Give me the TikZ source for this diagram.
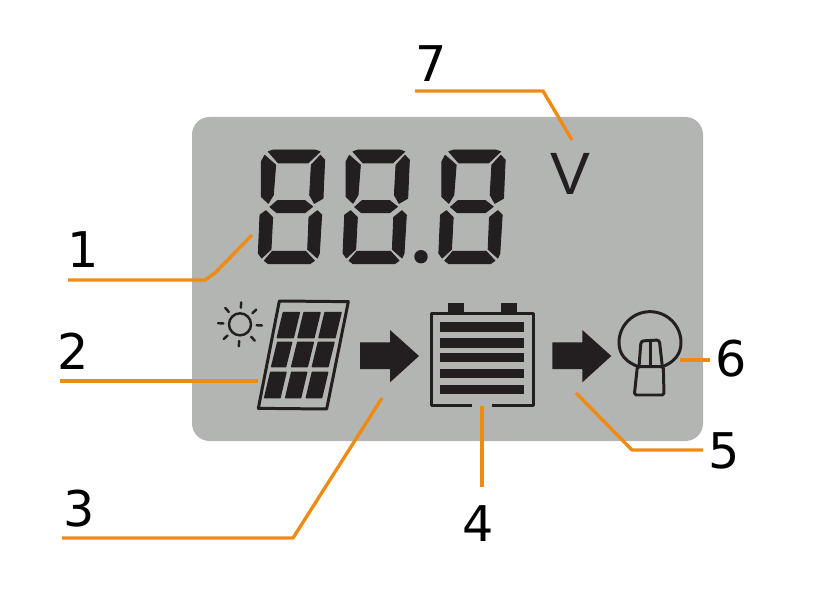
\documentclass[tikz,border=0pt]{standalone}
\usepackage{fontspec}
\setmainfont{DejaVu Sans}
\newfontfamily\lcdfont{Liberation Sans}
\definecolor{lcdgray}{HTML}{B2B5B2}
\definecolor{lcdblack}{HTML}{231F20}
\definecolor{leader}{HTML}{F08A12}
\tikzset{
  number/.style={font=\fontsize{28}{28}\selectfont, text=black, inner sep=0pt},
  leaderline/.style={draw=leader, line width=1.9pt, line join=round},
  seg/.style={fill=lcdblack, draw=lcdblack, line width=0.5pt, line join=round},
  icon/.style={draw=lcdblack, line width=1.7pt, line join=round},
  tiny/.style={scale=1/3}
}
% one 7-segment digit, drawn at 3x
\newcommand{\lcddigit}{%
  \path[seg] (85,65) -- (100,60) -- (225,60) -- (240,65) -- (204,99) -- (115,99) -- cycle;
  \path[seg] (74,76) -- (107,105) -- (100,195) -- (85,220) -- (64,200) -- (64,95) -- cycle;
  \path[seg] (241,76) -- (254,90) -- (249,205) -- (223,220) -- (209,195) -- (214,105) -- cycle;
  \path[seg] (90,231) -- (112,212) -- (195,212) -- (218,230) -- (195,248) -- (110,248) -- cycle;
  \path[seg] (78,242) -- (98,262) -- (93,358) -- (65,384) -- (55,370) -- (60,255) -- cycle;
  \path[seg] (232,242) -- (245,255) -- (238,370) -- (232,384) -- (203,358) -- (207,262) -- cycle;
  \path[seg] (97,364) -- (197,364) -- (223,392) -- (210,401) -- (85,401) -- (73,392) -- cycle;
}
% block arrow, drawn at 3x
\newcommand{\lcdarrow}{%
  \fill[lcdblack] (0,37) -- (90,37) -- (90,0) -- (177,78) -- (90,157) -- (90,117) -- (0,117) -- cycle;
}
\begin{document}
\begin{tikzpicture}[x=0.02cm, y=-0.02cm]
    \useasboundingbox (0,0) rectangle (835,611);

    % Display
    \fill[lcdgray, rounded corners=10pt] (192,117) -- (703,117) -- (703,441) -- (192,441) -- cycle;

    % Digits
    \foreach \digitx in {0,84.7,180.5} {
        \begin{scope}[shift={(240+\digitx,130)}, tiny]
            \lcddigit
        \end{scope}
    }
    \fill[lcdblack] (421,256.7) circle (6.7);

    % Volt sign
    \node[font=\lcdfont\fontsize{34}{34}\selectfont, text=lcdblack, inner sep=0pt] (volt) at (570,174) {V};

    % Sun and solar panel
    \begin{scope}[shift={(200,285)}, tiny]
        \draw[icon, line width=1.4pt] (120,118) circle (33);
        \foreach \ang in {3,48,93,138,183,228,273,318} {
            \draw[icon, line width=1.4pt, line cap=round, shift={(120,118)}] (\ang:50) -- (\ang:66);
        }
        \draw[icon] (238,48) -- (445,50) -- (380,372) -- (175,370) -- cycle;
        \foreach \cellx/\celly/\cellw/\cellh in {
            250/83/48/75, 312/83/48/75, 375/83/48/75,
            233/172/42/73, 293/172/47/73, 355/172/47/73,
            212/262/46/76, 275/262/45/76, 337/262/46/76} {
            \filldraw[lcdblack, line width=0.8pt, line join=round] (\cellx,\celly) -- ++(\cellw,0) -- ++(-18,\cellh) -- ++(-\cellw,0) -- cycle;
        }
    \end{scope}

    % Arrows
    \begin{scope}[shift={(360,330)}, tiny]
        \lcdarrow
    \end{scope}
    \begin{scope}[shift={(552.3,330)}, tiny]
        \lcdarrow
    \end{scope}

    % Battery
    \begin{scope}[shift={(420,290)}, tiny]
        \fill[lcdblack] (83,40) rectangle (133,70);
        \fill[lcdblack] (243,40) rectangle (290,70);
        \draw[icon] (156,347) -- (35,347) -- (35,70) -- (340,70) -- (340,347) -- (216,347);
        \foreach \bary/\barh in {95/32, 145/29, 188/29, 237/28, 284/29} {
            \fill[lcdblack] (60,\bary) rectangle (313,\bary+\barh);
        }
    \end{scope}

    % Bulb
    \begin{scope}[shift={(610,305)}, tiny]
        \draw[icon] (85,185) .. controls (50,172) and (27,150) .. (27,113)
            .. controls (27,60) and (70,20) .. (120,20)
            .. controls (170,20) and (213,60) .. (213,113)
            .. controls (213,150) and (190,172) .. (158,185);
        \draw[icon, rounded corners=1pt] (82,185) -- (73,270) -- (162,270) -- (160,185) -- cycle;
        \draw[icon, rounded corners=1.5pt] (87,185) -- (93,108) -- (148,105) -- (157,185);
        \draw[icon] (120,108) -- (120,182);
    \end{scope}

    % Numbers
    \node[number] (n1) at (83,250) {1};
    \node[number] (n2) at (73,351) {2};
    \node[number] (n3) at (79,509) {3};
    \node[number] (n4) at (478,524) {4};
    \node[number] (n5) at (724,451) {5};
    \node[number] (n6) at (731,359) {6};
    \node[number] (n7) at (431,64) {7};

    % Leader lines
    \coordinate (s1) at (68,280);
    \coordinate (b1) at (205,280);
    \coordinate (m1) at (215,273);
    \coordinate (e1) at (252,235);
    \coordinate (s2) at (60,381);
    \coordinate (e2) at (258,381);
    \coordinate (s3) at (62,538);
    \coordinate (b3) at (293,538);
    \coordinate (e3) at (382,398);
    \coordinate (s4) at (482,487);
    \coordinate (e4) at (482,406);
    \coordinate (s5) at (703,450);
    \coordinate (b5) at (632,450);
    \coordinate (e5) at (576,393);
    \coordinate (s6) at (710,360);
    \coordinate (e6) at (680,360);
    \coordinate (s7) at (415,91);
    \coordinate (b7) at (543,91);
    \coordinate (e7) at (572,140);

    \draw[leaderline] (s1) -- (b1) -- (m1) -- (e1);
    \draw[leaderline] (s2) -- (e2);
    \draw[leaderline] (s3) -- (b3) -- (e3);
    \draw[leaderline] (s4) -- (e4);
    \draw[leaderline] (s5) -- (b5) -- (e5);
    \draw[leaderline] (s6) -- (e6);
    \draw[leaderline] (s7) -- (b7) -- (e7);
\end{tikzpicture}
\end{document}
